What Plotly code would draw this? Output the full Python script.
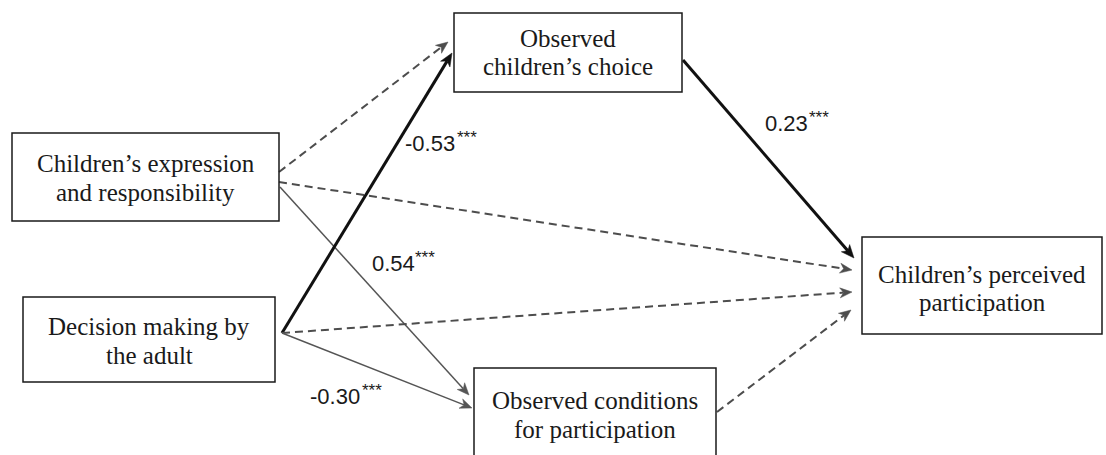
import math
import plotly.graph_objects as go

# ---- Nodes (boxes) ----
node_lines = [
    ["Children’s expression", "and responsibility"],
    ["Decision making by", "the adult"],
    ["Observed", "children’s choice"],
    ["Observed conditions", "for participation"],
    ["Children’s perceived", "participation"],
]
node_x0 = [12, 23, 454, 474, 862]
node_x1 = [279, 275, 682, 716, 1102]
node_y0 = [133, 297, 13, 368, 237]
node_y1 = [221, 382, 92, 460, 334]
node_text_y = [178, 341, 52.5, 415, 288.5]
LINE_GAP = 28.5

# ---- Paths (edges) ----
edge_x0 = [279, 279, 280, 282, 282, 282, 683, 717]
edge_y0 = [172, 182, 187, 333, 333, 333, 60, 412]
edge_x1 = [448, 852, 469, 452, 852, 472, 854, 851]
edge_y1 = [42, 270, 395, 53, 292, 408, 258, 310]
edge_style = ["dashed", "dashed", "thin", "thick", "dashed", "thin", "thick", "dashed"]

# ---- Path coefficients ----
coef_text = ["-0.53", "0.54", "0.23", "-0.30"]
coef_stars = ["***", "***", "***", "***"]
coef_x = [403, 370, 763, 308]
coef_y = [143, 263, 123, 396]
star_x = [455, 413, 807, 360]
star_y = [137, 257, 117, 390]

W, H = 1106, 455
styles = {
    "dashed": dict(color="#4d4d4d", width=2, dash="8px,5px", hl=12, hw=5.0, notch=3.5),
    "thin": dict(color="#555555", width=1.5, dash="solid", hl=12, hw=5.0, notch=3.5),
    "thick": dict(color="#111111", width=3, dash="solid", hl=13, hw=5.5, notch=3.5),
}

fig = go.Figure()
annotations = []
shapes = []

for x0, y0, x1, y1, st in zip(edge_x0, edge_y0, edge_x1, edge_y1, edge_style):
    s = styles[st]
    L = math.hypot(x1 - x0, y1 - y0)
    ux, uy = (x1 - x0) / L, (y1 - y0) / L
    nx, ny = -uy, ux
    back = s["hl"] - s["notch"]
    fig.add_trace(go.Scatter(
        x=[x0, x1 - back * ux], y=[y0, y1 - back * uy], mode="lines",
        line=dict(color=s["color"], width=s["width"], dash=s["dash"]),
        hoverinfo="skip", showlegend=False,
    ))
    bx, by = x1 - s["hl"] * ux, y1 - s["hl"] * uy
    hx = [x1, bx + s["hw"] * nx, x1 - back * ux, bx - s["hw"] * nx, x1]
    hy = [y1, by + s["hw"] * ny, y1 - back * uy, by - s["hw"] * ny, y1]
    fig.add_trace(go.Scatter(
        x=hx, y=hy, mode="lines", fill="toself", fillcolor=s["color"],
        line=dict(color=s["color"], width=0.5),
        hoverinfo="skip", showlegend=False,
    ))

for lines, a, b, c, d, ty in zip(node_lines, node_x0, node_x1, node_y0, node_y1, node_text_y):
    shapes.append(dict(type="rect", xref="x", yref="y", x0=a, x1=b, y0=c, y1=d,
                       line=dict(color="#1a1a1a", width=1.5), fillcolor="rgba(0,0,0,0)", layer="above"))
    n = len(lines)
    for i, ln in enumerate(lines):
        annotations.append(dict(
            x=(a + b) / 2, y=ty + (i - (n - 1) / 2) * LINE_GAP, xref="x", yref="y",
            text=ln, showarrow=False,
            font=dict(family="Liberation Serif", size=25, color="#1a1a1a"),
            xanchor="center", yanchor="middle", align="center",
        ))

for t, x, y in zip(coef_text, coef_x, coef_y):
    annotations.append(dict(
        x=x, y=y, xref="x", yref="y", showarrow=False, text=t,
        font=dict(family="Liberation Sans", size=22, color="#1a1a1a"),
        xanchor="left", yanchor="middle",
    ))
for t, x, y in zip(coef_stars, star_x, star_y):
    annotations.append(dict(
        x=x, y=y, xref="x", yref="y", showarrow=False, text=t,
        font=dict(family="Liberation Sans", size=17, color="#1a1a1a"),
        xanchor="left", yanchor="middle",
    ))

fig.update_layout(
    width=W, height=H, margin=dict(l=0, r=0, t=0, b=0),
    paper_bgcolor="white", plot_bgcolor="white",
    xaxis=dict(range=[0, W], visible=False, fixedrange=True),
    yaxis=dict(range=[H, 0], visible=False, fixedrange=True),
    shapes=shapes, annotations=annotations, showlegend=False,
)
fig.write_html("out.html", config={"displayModeBar": False},
               post_script="document.body.style.margin='0';")
